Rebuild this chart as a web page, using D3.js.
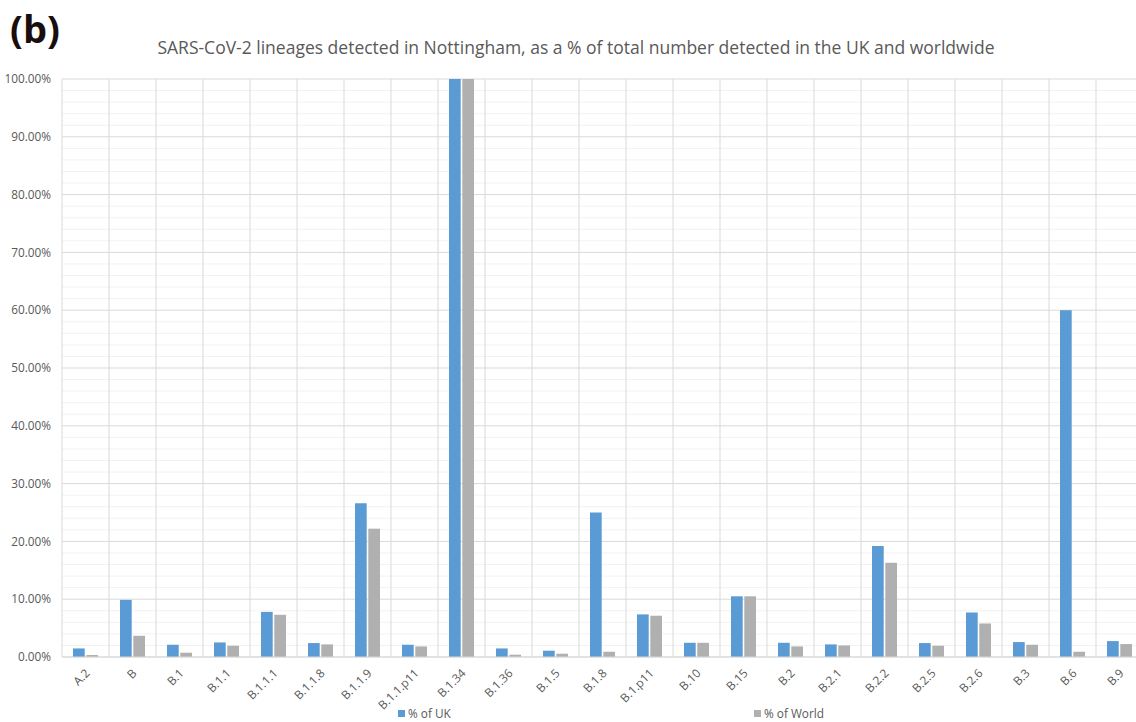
<!DOCTYPE html>
<html>
<head>
<meta charset="utf-8">
<script src="https://cdn.jsdelivr.net/npm/d3@7/dist/d3.min.js"></script>
<style>
  html, body { margin: 0; padding: 0; background: #fff; }
  svg { display: block; }
  text { font-family: "Open Sans", "Noto Sans", sans-serif; }
</style>
</head>
<body>
<svg id="chart" width="1136" height="722"></svg>
<script>
const categories = ["A.2","B","B.1","B.1.1","B.1.1.1","B.1.1.8","B.1.1.9","B.1.1.p11","B.1.34","B.1.36","B.1.5","B.1.8","B.1.p11","B.10","B.15","B.2","B.2.1","B.2.2","B.2.5","B.2.6","B.3","B.6","B.9"];
const ukValues    = [1.48, 9.88, 2.12, 2.52, 7.80, 2.41, 26.6, 2.12, 100, 1.48, 1.09, 25.0, 7.37, 2.46, 10.5, 2.46, 2.18, 19.2, 2.41, 7.70, 2.58, 60.0, 2.75];
const worldValues = [0.34, 3.67, 0.74, 1.95, 7.30, 2.18, 22.2, 1.83, 100, 0.40, 0.57, 0.91, 7.14, 2.46, 10.5, 1.83, 2.00, 16.3, 1.95, 5.80, 2.12, 0.91, 2.24];
const seriesNames = ["% of UK", "% of World"];
const yTicks = [0,10,20,30,40,50,60,70,80,90,100];

const svg = d3.select("#chart");
const colors = ["#5b9bd5", "#b0b0b0"];
const textColor = "#595959";

const x = d3.scaleBand().domain(categories).range([62, 1143]).padding(0);
const y = d3.scaleLinear().domain([0, 100]).range([657, 79]);
const xi = d3.scaleBand().domain([0, 1]).range([-12.5, 12.5]).paddingInner(0.12);

// minor gridlines
svg.append("g").selectAll("line")
  .data(d3.range(0, 101, 2).filter(v => v % 10 !== 0))
  .join("line")
  .attr("x1", 62).attr("x2", 1143)
  .attr("y1", d => y(d)).attr("y2", d => y(d))
  .attr("stroke", "#f2f2f2").attr("stroke-width", 1);

// major gridlines
svg.append("g").selectAll("line")
  .data(yTicks)
  .join("line")
  .attr("x1", 62).attr("x2", 1143)
  .attr("y1", d => y(d)).attr("y2", d => y(d))
  .attr("stroke", "#d9d9d9").attr("stroke-width", 1);

// vertical category gridlines
svg.append("g").selectAll("line")
  .data(categories)
  .join("line")
  .attr("x1", d => x(d)).attr("x2", d => x(d))
  .attr("y1", y(100)).attr("y2", y(0))
  .attr("stroke", "#d9d9d9").attr("stroke-width", 1);

// y axis labels
const yAxis = d3.axisLeft(y).tickValues(yTicks).tickFormat(d => d.toFixed(2) + "%").tickSize(0).tickPadding(0);
const ya = svg.append("g").attr("transform", "translate(51,0)").call(yAxis);
ya.select(".domain").remove();
ya.selectAll("text").attr("fill", textColor).style("font-size", "11.8px").style("font-family", "'Open Sans', sans-serif");

// bars
const data = categories.map((c, i) => ({c, v: [ukValues[i], worldValues[i]]}));
const groups = svg.append("g").selectAll("g")
  .data(data).join("g")
  .attr("transform", d => `translate(${x(d.c) + x.bandwidth() / 2},0)`);
groups.selectAll("rect")
  .data(d => d.v.map((v, k) => ({v, k})))
  .join("rect")
  .attr("x", d => xi(d.k))
  .attr("width", xi.bandwidth())
  .attr("y", d => y(d.v))
  .attr("height", d => y(0) - y(d.v))
  .attr("fill", d => colors[d.k]);

// x axis line
svg.append("line").attr("x1", 62).attr("x2", 1143).attr("y1", y(0)).attr("y2", y(0))
  .attr("stroke", "#d9d9d9").attr("stroke-width", 1);

// x labels
const xAxis = d3.axisBottom(x).tickSize(0).tickPadding(0);
const xa = svg.append("g").attr("transform", `translate(0,${y(0)})`).call(xAxis);
xa.select(".domain").remove();
xa.selectAll("text")
  .attr("fill", textColor)
  .style("font-size", "11.8px")
  .attr("text-anchor", "end")
  .attr("dy", null)
  .attr("y", 0)
  .attr("transform", "translate(5,17) rotate(-45)");

// title
svg.append("text").attr("x", 576).attr("y", 54).attr("text-anchor", "middle")
  .attr("fill", textColor).style("font-size", "17.5px")
  .text("SARS-CoV-2 lineages detected in Nottingham, as a % of total number detected in the UK and worldwide");

// panel label
svg.append("text").attr("x", 10).attr("y", 43)
  .attr("fill", "#1a0d0d").style("font-size", "38px").style("font-weight", "bold")
  .style("font-family", "'Open Sans', 'Liberation Sans', sans-serif")
  .text("(b)");

// legend
const legendX = [398, 754];
const lg = svg.append("g").selectAll("g").data(seriesNames).join("g")
  .attr("transform", (d, i) => `translate(${legendX[i]},710)`);
lg.append("rect").attr("width", 7).attr("height", 7).attr("fill", (d, i) => colors[i]);
lg.append("text").attr("x", 10).attr("y", 7.5).attr("fill", textColor)
  .style("font-size", "11.8px").text(d => d);
</script>
</body>
</html>
